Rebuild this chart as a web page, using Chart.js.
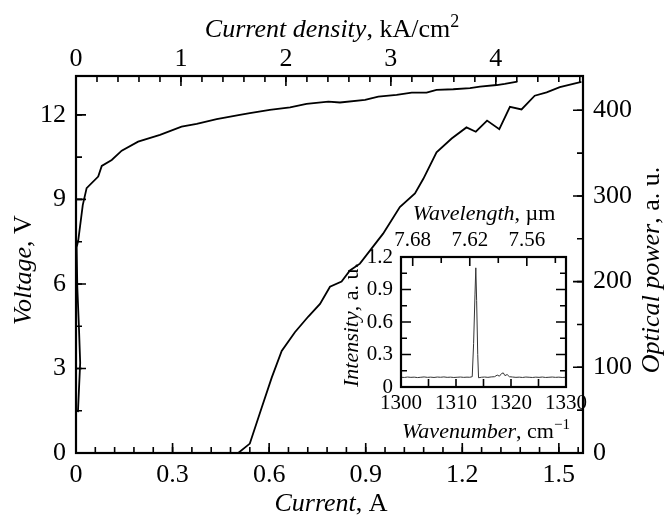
<!DOCTYPE html>
<html>
<head>
<meta charset="utf-8">
<script src="https://cdn.jsdelivr.net/npm/chart.js@4.4.0/dist/chart.umd.min.js"></script>
<style>
  html, body { margin: 0; padding: 0; background: #fff; }
  #wrap { position: relative; width: 669px; height: 516px; }
  #main { position: absolute; left: 0; top: 0; }
  #inset { position: absolute; left: 330px; top: 190px; }
</style>
</head>
<body>
<div id="wrap">
  <canvas id="main" width="669" height="516"></canvas>
  <canvas id="inset" width="270" height="265"></canvas>
</div>
<script>
// voltage vs current
const currentV = [0.006, 0.013, 0.009, 0.004, 0.002, 0.007, 0.021, 0.033, 0.069, 0.080, 0.111, 0.142, 0.193, 0.261, 0.328, 0.375, 0.437, 0.509, 0.540, 0.602, 0.665, 0.716, 0.784, 0.820, 0.898, 0.939, 0.996, 1.043, 1.089, 1.120, 1.172, 1.224, 1.255, 1.307, 1.332, 1.371];
const voltage  = [1.45, 3.2, 4.5, 5.9, 7.3, 7.55, 8.8, 9.4, 9.81, 10.19, 10.4, 10.73, 11.05, 11.29, 11.58, 11.68, 11.85, 12.0, 12.06, 12.18, 12.27, 12.39, 12.47, 12.44, 12.53, 12.65, 12.71, 12.79, 12.79, 12.89, 12.91, 12.95, 13.0, 13.06, 13.1, 13.18];

// optical power vs current
const currentP = [0.504, 0.540, 0.577, 0.608, 0.639, 0.680, 0.721, 0.758, 0.789, 0.825, 0.851, 0.882, 0.954, 1.006, 1.053, 1.079, 1.120, 1.167, 1.213, 1.242, 1.277, 1.315, 1.348, 1.384, 1.425, 1.462, 1.503, 1.570];
const power    = [0, 11, 53, 88, 119, 141, 159, 174, 194, 200, 213, 221, 256, 287, 303, 320, 351, 367, 380, 375, 388, 378, 404, 401, 417, 421, 427, 433];

// inset spectrum
const wavenumber = [1300, 1300.6, 1301.2, 1301.8, 1302.4, 1303, 1303.6, 1304.2, 1304.8, 1305.4, 1306, 1306.6, 1307.2, 1307.8, 1308.4, 1309, 1309.6, 1310.2, 1310.8, 1311.4, 1312, 1312.5, 1312.95, 1313.2, 1313.45, 1313.6, 1313.75, 1313.95, 1314.1, 1314.6, 1315.2, 1315.8, 1316.4, 1317, 1317.5, 1317.9, 1318.3, 1318.6, 1318.9, 1319.3, 1319.7, 1320.3, 1320.9, 1321.5, 1322.1, 1322.7, 1323.3, 1323.9, 1324.5, 1325.1, 1325.7, 1326.3, 1326.9, 1327.5, 1328.1, 1328.7, 1329.3, 1330];
const intensity  = [0.09, 0.088, 0.092, 0.089, 0.091, 0.087, 0.09, 0.093, 0.089, 0.091, 0.088, 0.092, 0.09, 0.093, 0.089, 0.091, 0.088, 0.09, 0.092, 0.089, 0.091, 0.09, 0.095, 0.4, 0.85, 1.1, 0.8, 0.3, 0.085, 0.09, 0.092, 0.089, 0.093, 0.095, 0.11, 0.1, 0.125, 0.13, 0.105, 0.115, 0.095, 0.092, 0.089, 0.091, 0.088, 0.092, 0.09, 0.088, 0.091, 0.089, 0.092, 0.088, 0.09, 0.092, 0.089, 0.091, 0.088, 0.09];

// tick labels
const currentTicks = [0, 0.3, 0.6, 0.9, 1.2, 1.5];
const densityTicks = [0, 1, 2, 3, 4];
const voltageTicks = [0, 3, 6, 9, 12];
const powerTicks = [0, 100, 200, 300, 400];
const wnTicks = [1300, 1310, 1320, 1330];
const intTicks = [0, 0.3, 0.6, 0.9, 1.2];
const wlTicks = [7.68, 7.62, 7.56];
const wlMinor = [7.65, 7.59, 7.53];

const FONT = '"Liberation Serif", "Times New Roman", serif';
Chart.defaults.font.family = FONT;
Chart.defaults.color = '#000';

const I_MAX = 1.575;
const DENSITY_PER_A = 3.067;

function steps(from, to, step) {
  const out = [];
  for (let i = 0; from + i * step <= to + 1e-9; i++) out.push(+(from + i * step).toFixed(4));
  return out;
}

function pts(xs, ys) { return xs.map((x, i) => ({ x: x, y: ys[i] })); }

// fixed axis box sizes, no extra label overhang padding
function fixed(size) {
  return function (s) {
    if (s.isHorizontal()) s.height = size; else s.width = size;
    s.paddingLeft = s.paddingRight = s.paddingTop = s.paddingBottom = 0;
  };
}
function useTicks(arr) {
  return function (s) { s.ticks = arr.map(v => ({ value: v })); };
}

function tickMarks(ctx, scale, values, len, side, a) {
  ctx.beginPath();
  values.forEach(v => {
    const p = scale.getPixelForValue(v);
    if (side === 'bottom') { ctx.moveTo(p, a.bottom); ctx.lineTo(p, a.bottom - len); }
    if (side === 'top') { ctx.moveTo(p, a.top); ctx.lineTo(p, a.top + len); }
    if (side === 'left') { ctx.moveTo(a.left, p); ctx.lineTo(a.left + len, p); }
    if (side === 'right') { ctx.moveTo(a.right, p); ctx.lineTo(a.right - len, p); }
  });
  ctx.stroke();
}

// text with italic / roman / superscript pieces, centred on (x, y) baseline
function drawParts(ctx, parts, x, y, size, rot) {
  const fontOf = p => p.sup ? `${Math.round(size * 0.68)}px ${FONT}` : `${p.it ? 'italic ' : ''}${size}px ${FONT}`;
  ctx.save();
  ctx.translate(x, y);
  ctx.rotate(rot || 0);
  ctx.fillStyle = '#000';
  ctx.textBaseline = 'alphabetic';
  ctx.textAlign = 'left';
  let w = 0;
  parts.forEach(p => { ctx.font = fontOf(p); w += ctx.measureText(p.t).width; });
  let cx = -w / 2;
  parts.forEach(p => {
    ctx.font = fontOf(p);
    ctx.fillText(p.t, cx, p.sup ? -size * 0.4 : 0);
    cx += ctx.measureText(p.t).width;
  });
  ctx.restore();
}

const mainFrame = {
  id: 'mainFrame',
  afterDraw(chart) {
    const ctx = chart.ctx, a = chart.chartArea, s = chart.scales;
    ctx.save();
    ctx.strokeStyle = '#000';
    ctx.lineWidth = 1.6;
    tickMarks(ctx, s.x, currentTicks, 10, 'bottom', a);
    tickMarks(ctx, s.x, steps(0, 1.56, 0.06), 6, 'bottom', a);
    tickMarks(ctx, s.x2, densityTicks, 10, 'top', a);
    tickMarks(ctx, s.x2, steps(0, 4.8, 0.2), 6, 'top', a);
    tickMarks(ctx, s.y, voltageTicks, 10, 'left', a);
    tickMarks(ctx, s.y, steps(0, 13.3, 1.5), 6, 'left', a);
    tickMarks(ctx, s.y2, powerTicks, 10, 'right', a);
    tickMarks(ctx, s.y2, steps(0, 430, 50), 6, 'right', a);
    ctx.lineWidth = 2.2;
    ctx.strokeRect(a.left, a.top, a.right - a.left, a.bottom - a.top);
    ctx.restore();

    drawParts(ctx, [{ t: 'Current density', it: true }, { t: ', kA/cm' }, { t: '2', sup: true }], 332, 37, 26);
    drawParts(ctx, [{ t: 'Current', it: true }, { t: ', A' }], 331, 511, 26);
    drawParts(ctx, [{ t: 'Voltage', it: true }, { t: ', V' }], 31, 270, 26, -Math.PI / 2);
    drawParts(ctx, [{ t: 'Optical power', it: true }, { t: ', a. u.' }], 659, 270, 26, -Math.PI / 2);
  }
};

const tickFont = { size: 26, lineHeight: 1 };

new Chart(document.getElementById('main'), {
  type: 'scatter',
  data: {
    datasets: [
      { label: 'Voltage', data: pts(currentV, voltage), xAxisID: 'x', yAxisID: 'y',
        showLine: true, borderColor: '#000', borderWidth: 1.8, pointRadius: 0, tension: 0 },
      { label: 'Optical power', data: pts(currentP, power), xAxisID: 'x', yAxisID: 'y2',
        showLine: true, borderColor: '#000', borderWidth: 1.8, pointRadius: 0, tension: 0 }
    ]
  },
  options: {
    responsive: false,
    animation: false,
    devicePixelRatio: 1,
    layout: { padding: 0 },
    plugins: { legend: { display: false }, tooltip: { enabled: false } },
    scales: {
      x: {
        type: 'linear', position: 'bottom', min: 0, max: I_MAX,
        afterBuildTicks: useTicks(currentTicks), afterFit: fixed(63),
        grid: { display: false, drawTicks: false }, border: { display: false },
        ticks: { font: tickFont, padding: 9, autoSkip: false, maxRotation: 0, callback: v => String(v) }
      },
      x2: {
        type: 'linear', position: 'top', min: 0, max: I_MAX * DENSITY_PER_A,
        afterBuildTicks: useTicks(densityTicks), afterFit: fixed(76),
        grid: { display: false, drawTicks: false }, border: { display: false },
        ticks: { font: tickFont, padding: 4, autoSkip: false, maxRotation: 0, callback: v => String(v) }
      },
      y: {
        type: 'linear', position: 'left', min: 0, max: 13.38,
        afterBuildTicks: useTicks(voltageTicks), afterFit: fixed(76),
        grid: { display: false, drawTicks: false }, border: { display: false },
        ticks: { font: tickFont, padding: 10, autoSkip: false, callback: v => String(v) }
      },
      y2: {
        type: 'linear', position: 'right', min: 0, max: 440,
        afterBuildTicks: useTicks(powerTicks), afterFit: fixed(86),
        grid: { display: false, drawTicks: false }, border: { display: false },
        ticks: { font: tickFont, padding: 10, autoSkip: false, callback: v => String(v) }
      }
    }
  },
  plugins: [mainFrame]
});

// inset
const OX = 330, OY = 190;
const insetFrame = {
  id: 'insetFrame',
  afterDraw(chart) {
    const ctx = chart.ctx, a = chart.chartArea, s = chart.scales;
    ctx.save();
    ctx.strokeStyle = '#000';
    ctx.lineWidth = 1.6;
    tickMarks(ctx, s.x, steps(1300, 1330, 5), 8, 'bottom', a);
    tickMarks(ctx, s.x2, wlTicks, 9, 'top', a);
    tickMarks(ctx, s.x2, wlMinor, 6, 'top', a);
    tickMarks(ctx, s.y, intTicks, 10, 'left', a);
    tickMarks(ctx, s.y, steps(0.15, 1.05, 0.3), 6, 'left', a);
    tickMarks(ctx, s.y, intTicks, 10, 'right', a);
    tickMarks(ctx, s.y, steps(0.15, 1.05, 0.3), 6, 'right', a);
    ctx.lineWidth = 2.2;
    ctx.strokeRect(a.left, a.top, a.right - a.left, a.bottom - a.top);
    ctx.restore();

    drawParts(ctx, [{ t: 'Wavelength', it: true }, { t: ', \u00b5m' }], 484 - OX, 220 - OY, 22);
    drawParts(ctx, [{ t: 'Wavenumber', it: true }, { t: ', cm' }, { t: '\u22121', sup: true }], 486 - OX, 438 - OY, 22);
    drawParts(ctx, [{ t: 'Intensity', it: true }, { t: ', a. u.' }], 358 - OX, 325 - OY, 22, -Math.PI / 2);
  }
};

const insetFont = { size: 21, lineHeight: 1 };

new Chart(document.getElementById('inset'), {
  type: 'scatter',
  data: {
    datasets: [
      { label: 'Spectrum', data: pts(wavenumber, intensity), xAxisID: 'x', yAxisID: 'y',
        showLine: true, borderColor: '#333', borderWidth: 1, pointRadius: 0, tension: 0 }
    ]
  },
  options: {
    responsive: false,
    animation: false,
    devicePixelRatio: 1,
    layout: { padding: { left: 0, right: 34, top: 0, bottom: 0 } },
    plugins: { legend: { display: false }, tooltip: { enabled: false } },
    scales: {
      x: {
        type: 'linear', position: 'bottom', min: 1300, max: 1330,
        afterBuildTicks: useTicks(wnTicks), afterFit: fixed(68),
        grid: { display: false, drawTicks: false }, border: { display: false },
        ticks: { font: insetFont, padding: 6, autoSkip: false, maxRotation: 0, callback: v => String(v) }
      },
      x2: {
        type: 'linear', position: 'top', min: 10000 / 1330, max: 10000 / 1300, reverse: true,
        afterBuildTicks: useTicks(wlTicks), afterFit: fixed(67),
        grid: { display: false, drawTicks: false }, border: { display: false },
        ticks: { font: insetFont, padding: 6, autoSkip: false, maxRotation: 0, callback: v => v.toFixed(2) }
      },
      y: {
        type: 'linear', position: 'left', min: 0, max: 1.2,
        afterBuildTicks: useTicks(intTicks), afterFit: fixed(71),
        grid: { display: false, drawTicks: false }, border: { display: false },
        ticks: { font: insetFont, padding: 8, autoSkip: false, callback: v => String(v) }
      }
    }
  },
  plugins: [insetFrame]
});
</script>
</body>
</html>
